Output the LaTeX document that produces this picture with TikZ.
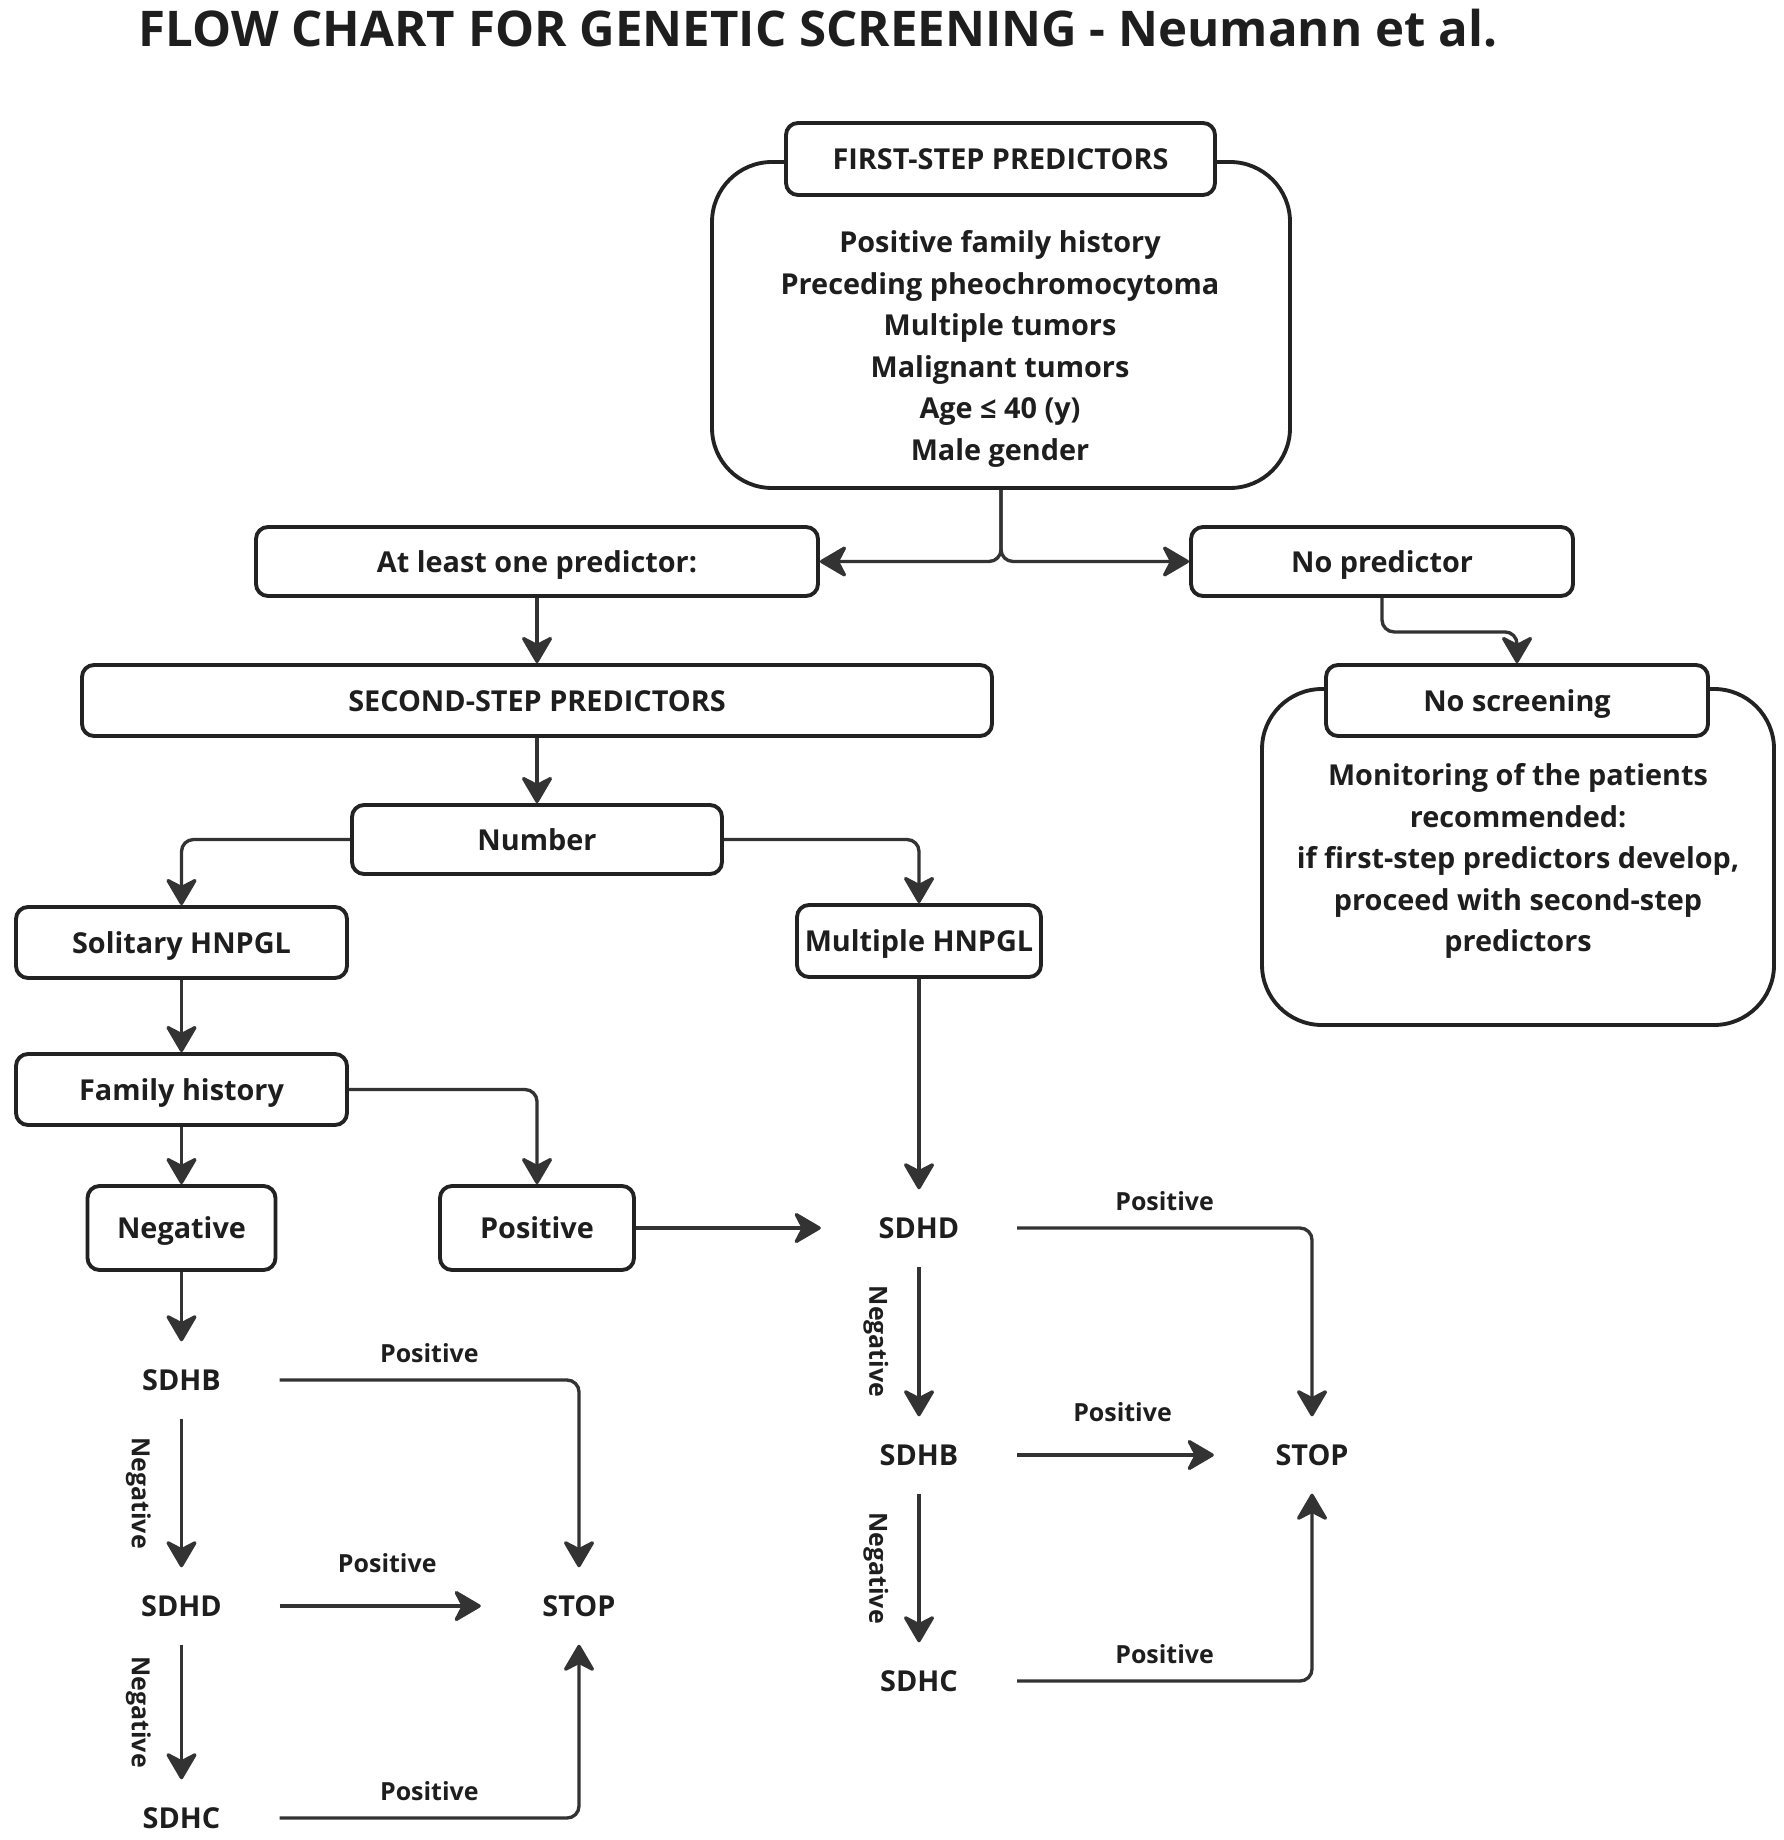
\documentclass[tikz,border=0pt]{standalone}
\usepackage{fontspec}
\setmainfont{Open Sans}
\usepackage{tikz}
\usetikzlibrary{arrows.meta, positioning, calc}
\definecolor{linegray}{HTML}{333333}
\definecolor{boxgray}{HTML}{222222}
\definecolor{inkgray}{HTML}{1E1E1E}

\begin{document}
\begin{tikzpicture}[
  box/.style={draw=boxgray, fill=white, rounded corners=0.12cm, line width=1.1pt,
              inner sep=0pt, align=center, text=inkgray,
              text height=1em, text depth=0.4em,
              font=\fontsize{8.2}{11.8}\selectfont\bfseries},
  panel/.style={draw=boxgray, rounded corners=0.6cm, line width=1.1pt, inner sep=0pt},
  listtext/.style={align=center, text=inkgray, font=\fontsize{8.2}{11.8}\selectfont\bfseries},
  gene/.style={minimum width=1.95cm, minimum height=0.76cm, inner sep=0pt,
               text=inkgray, font=\fontsize{8.2}{11.8}\selectfont\bfseries},
  arr/.style={-{Stealth[length=0.3cm, width=0.35cm, inset=0.09cm, round]},
              line width=0.95pt, draw=linegray, rounded corners=0.12cm},
  poslbl/.style={above=0.04cm, text=inkgray, font=\fontsize{7.1}{8}\selectfont\bfseries},
  poslblhi/.style={poslbl, above=0.2cm, xshift=0.07cm},
  neglbl/.style={midway, rotate=-90, anchor=north, inner sep=0.29cm,
                 text=inkgray, font=\fontsize{7.1}{8}\selectfont\bfseries}
]
\useasboundingbox (0,0) rectangle (17.83,-18.40);

\node[text=inkgray, font=\fontsize{14}{16}\selectfont\bfseries] (title) at (8.18,-0.28)
  {FLOW CHART FOR GENETIC SCREENING - Neumann et al.};

% first step
\node[panel, minimum width=5.78cm, minimum height=3.26cm] (fsBox) at (10.01,-3.25) {};
\node[box, minimum width=4.29cm, minimum height=0.72cm] (fsHead) at (10.005,-1.59)
  {FIRST-STEP PREDICTORS};
\node[listtext] (fsList) at (10.0,-3.49) {Positive family history\\Preceding pheochromocytoma\\
  Multiple tumors\\Malignant tumors\\Age ≤ 40 (y)\\Male gender};

\node[box, minimum width=5.62cm, minimum height=0.69cm] (atleast) at (5.37,-5.615)
  {At least one predictor:};
\node[box, minimum width=3.82cm, minimum height=0.69cm] (nopred) at (13.82,-5.615)
  {No predictor};

% no screening
\node[panel, minimum width=5.12cm, minimum height=3.36cm] (noscrBox) at (15.18,-8.57) {};
\node[box, minimum width=3.82cm, minimum height=0.71cm] (noscrHead) at (15.17,-7.005)
  {No screening};
\node[listtext] (noscrText) at (15.18,-8.61) {Monitoring of the patients\\recommended:\\
  if first-step predictors develop,\\proceed with second-step\\predictors};

% second step
\node[box, minimum width=9.10cm, minimum height=0.71cm] (second) at (5.37,-7.005)
  {SECOND-STEP PREDICTORS};
\node[box, minimum width=3.70cm, minimum height=0.69cm] (number) at (5.37,-8.395) {Number};
\node[box, minimum width=3.31cm, minimum height=0.71cm] (solitary) at (1.815,-9.425)
  {Solitary HNPGL};
\node[box, minimum width=2.44cm, minimum height=0.72cm] (multiple) at (9.19,-9.41)
  {Multiple HNPGL};
\node[box, minimum width=3.31cm, minimum height=0.71cm] (famhist) at (1.815,-10.895)
  {Family history};
\node[box, minimum width=1.88cm, minimum height=0.84cm] (negbox) at (1.815,-12.28) {Negative};
\node[box, minimum width=1.94cm, minimum height=0.84cm] (posbox) at (5.37,-12.28) {Positive};

% genes
\node[gene] (sdhbL) at (1.815,-13.80) {SDHB};
\node[gene] (sdhdL) at (1.815,-16.06) {SDHD};
\node[gene] (sdhcL) at (1.815,-18.18) {SDHC};
\node[gene] (stopL) at (5.79,-16.06) {STOP};
\node[gene] (sdhdR) at (9.19,-12.28) {SDHD};
\node[gene] (sdhbR) at (9.19,-14.55) {SDHB};
\node[gene] (sdhcR) at (9.19,-16.81) {SDHC};
\node[gene] (stopR) at (13.12,-14.55) {STOP};

\draw[arr] (fsBox.south) |- (atleast.east);
\draw[arr] (fsBox.south) |- (nopred.west);
\draw[arr] (nopred.south) -- ++(0,-0.34) -| (noscrHead.north);
\draw[arr] (atleast.south) -- (second.north);
\draw[arr] (second.south) -- (number.north);
\draw[arr] (number.west) -| (solitary.north);
\draw[arr] (number.east) -| (multiple.north);
\draw[arr] (solitary.south) -- (famhist.north);
\draw[arr] (famhist.south) -- (negbox.north);
\draw[arr] (famhist.east) -| (posbox.north);
\draw[arr] (posbox.east) -- (sdhdR.west);
\draw[arr] (multiple.south) -- (sdhdR.north);
\draw[arr] (negbox.south) -- (sdhbL.north);

\draw[arr] (sdhbL.east) -| node[poslbl, pos=0.25] {Positive} (stopL.north);
\draw[arr] (sdhbL.south) -- node[neglbl] {Negative} (sdhdL.north);
\draw[arr] (sdhdL.east) -- node[poslblhi, midway] {Positive} (stopL.west);
\draw[arr] (sdhdL.south) -- node[neglbl] {Negative} (sdhcL.north);
\draw[arr] (sdhcL.east) -| node[poslbl, pos=0.25] {Positive} (stopL.south);

\draw[arr] (sdhdR.east) -| node[poslbl, pos=0.25] {Positive} (stopR.north);
\draw[arr] (sdhdR.south) -- node[neglbl] {Negative} (sdhbR.north);
\draw[arr] (sdhbR.east) -- node[poslblhi, midway] {Positive} (stopR.west);
\draw[arr] (sdhbR.south) -- node[neglbl] {Negative} (sdhcR.north);
\draw[arr] (sdhcR.east) -| node[poslbl, pos=0.25] {Positive} (stopR.south);
\end{tikzpicture}
\end{document}
